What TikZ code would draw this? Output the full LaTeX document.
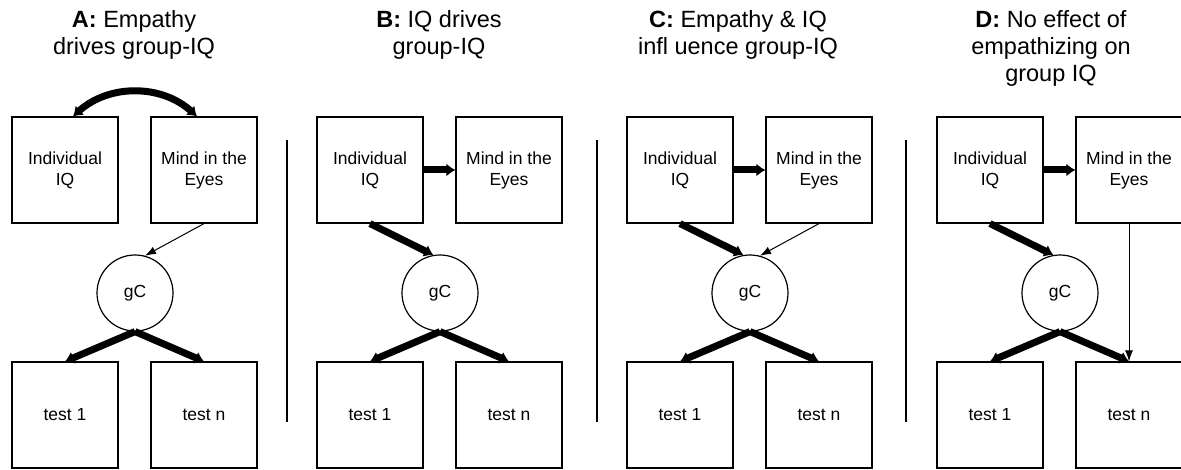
\documentclass[tikz,border=0pt]{standalone}
\usepackage{fontspec}
\setmainfont{Liberation Sans}
\usetikzlibrary{arrows.meta}

\begin{document}
\begin{tikzpicture}[x=1pt, y=-1pt,
	box/.style={draw=black, line width=1.2pt, minimum size=106pt, inner sep=0pt, align=center, font=\fontsize{17.5}{21}\selectfont},
	latent/.style={circle, draw=black, line width=1.2pt, minimum size=76pt, inner sep=0pt, font=\fontsize{17.5}{21}\selectfont},
	title/.style={align=center, inner sep=0pt, anchor=north, font=\fontsize{23.5}{27}\selectfont},
	strong/.style={draw=black, line width=7pt, -{Latex[length=9pt,width=13pt]}},
	weak/.style={draw=black, line width=1pt, -{Latex[length=11pt,width=8pt]}}]
			\useasboundingbox (0,0) rectangle (1181,470);
			
			% the four panels
			\foreach \p/\x in {a/12, b/317, c/627, d/937} {
				\node[box] (ind\p) at (\x+53,170) {Individual\\IQ};
				\node[box] (mind\p) at (\x+192,170) {Mind in the\\Eyes};
				\node[latent] (gc\p) at (\x+123,293) {gC};
				\node[box] (testi\p) at (\x+53,415) {test 1};
				\node[box] (testn\p) at (\x+192,415) {test n};
				\path (gc\p.south) edge[strong] (testi\p.north);
				\path (gc\p.south) edge[strong] (testn\p.north);
			}
			
			\node[title] (ta) at (134,10) {\textbf{A:} Empathy\\drives group-IQ};
			\node[title] (tb) at (439,10) {\textbf{B:} IQ drives\\group-IQ};
			\node[title] (tc) at (738,10) {\textbf{C:} Empathy \& IQ\\infl uence group-IQ};
			\node[title] (td) at (1051,10) {\textbf{D:} No effect of\\empathizing on\\group IQ};
			
			\draw[line width=1.2pt] (287,140) -- (287,422);
			\draw[line width=1.2pt] (597,140) -- (597,422);
			\draw[line width=1.2pt] (906,140) -- (906,422);
			
			% A
			\path ([xshift=8pt]inda.north) edge[strong, {Latex[length=9pt,width=13pt]}-{Latex[length=9pt,width=13pt]}, bend left=42] ([xshift=-7pt]minda.north);
			\path (minda.south) edge[weak] (gca.75);
			
			% B
			\path (indb.east) edge[strong] (mindb.west);
			\path (indb.south) edge[strong] (gcb.100);
			
			% C
			\path (indc.east) edge[strong] (mindc.west);
			\path (indc.south) edge[strong] (gcc.100);
			\path (mindc.south) edge[weak] (gcc.75);
			
			% D
			\path (indd.east) edge[strong] (mindd.west);
			\path (indd.south) edge[strong] (gcd.100);
			\path (mindd.south) edge[weak] (testnd.north);
\end{tikzpicture}
\end{document}
